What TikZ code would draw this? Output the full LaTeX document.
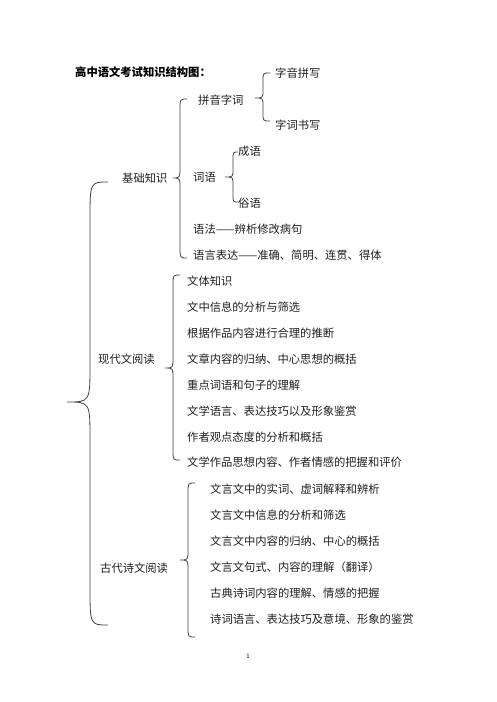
\documentclass[tikz,border=0pt]{standalone}
\usepackage{fontspec}
\setmainfont{Noto Sans CJK SC}
\newfontfamily\cjk{Noto Sans CJK SC}
\begin{document}
\begin{tikzpicture}[x=1pt,y=-1pt,
  txt/.style={anchor=west,inner sep=0pt,font=\cjk\fontsize{11.3}{13}\selectfont,text=black!88},
  ttl/.style={anchor=west,inner sep=0pt,font=\cjk\bfseries\fontsize{11.3}{13}\selectfont,text=black},
  brc/.style={draw=black!75,line width=0.8pt}]
\useasboundingbox (0,0) rectangle (496,702);
\newcommand\mybrace[7]{%
  \draw[brc] (#1,#4) .. controls (#2,#4) .. (#2,#4+#7) -- (#2,#5-#7)
    .. controls (#2,#5) .. (#3,#5) .. controls (#2,#5) .. (#2,#5+#7)
    -- (#2,#6-#7) .. controls (#2,#6) .. (#1,#6);}
% title
\node[ttl] (title) at (75,72) {高中语文考试知识结构图：};
% level 1
\node[txt] (jc) at (122,178) {基础知识};
\node[txt] (xd) at (98,359) {现代文阅读};
\node[txt] (gd) at (100,568) {古代诗文阅读};
% 基础知识 children
\node[txt] (py) at (198,100) {拼音字词};
\node[txt] (zy) at (275,73) {字音拼写};
\node[txt] (zc) at (275,125) {字词书写};
\node[txt] (cy) at (193,177) {词语};
\node[txt] (chy) at (238,151) {成语};
\node[txt] (sy) at (238,203) {俗语};
\node[txt] (yf) at (193,229) {语法——辨析修改病句};
\node[txt] (yy) at (193,255) {语言表达——准确、简明、连贯、得体};
% 现代文阅读 children
\node[txt] (x1) at (187,281) {文体知识};
\node[txt] (x2) at (187,307) {文中信息的分析与筛选};
\node[txt] (x3) at (187,333) {根据作品内容进行合理的推断};
\node[txt] (x4) at (187,359) {文章内容的归纳、中心思想的概括};
\node[txt] (x5) at (187,385) {重点词语和句子的理解};
\node[txt] (x6) at (187,411) {文学语言、表达技巧以及形象鉴赏};
\node[txt] (x7) at (187,437) {作者观点态度的分析和概括};
\node[txt] (x8) at (187,462) {文学作品思想内容、作者情感的把握和评价};
% 古代诗文阅读 children
\node[txt] (g1) at (210,489) {文言文中的实词、虚词解释和辨析};
\node[txt] (g2) at (210,515) {文言文中信息的分析和筛选};
\node[txt] (g3) at (210,541) {文言文中内容的归纳、中心的概括};
\node[txt] (g4) at (210,567) {文言文句式、内容的理解（翻译）};
\node[txt] (g5) at (210,593) {古典诗词内容的理解、情感的把握};
\node[txt] (g6) at (210,619) {诗词语言、表达技巧及意境、形象的鉴赏};
% page number
\node[inner sep=0pt,font=\fontsize{6}{7}\selectfont] (pg) at (248,656) {1};
% braces
\mybrace{270}{263}{255}{73}{98}{121}{8}
\mybrace{238}{233}{225}{152}{177}{202}{8}
\mybrace{187}{180}{173}{99}{178}{258}{12}
\mybrace{180}{173}{165}{275}{368}{460}{10}
\mybrace{195}{188}{180}{483}{560}{637}{10}
\mybrace{108}{90}{67}{182}{402}{625}{38}
\end{tikzpicture}
\end{document}
